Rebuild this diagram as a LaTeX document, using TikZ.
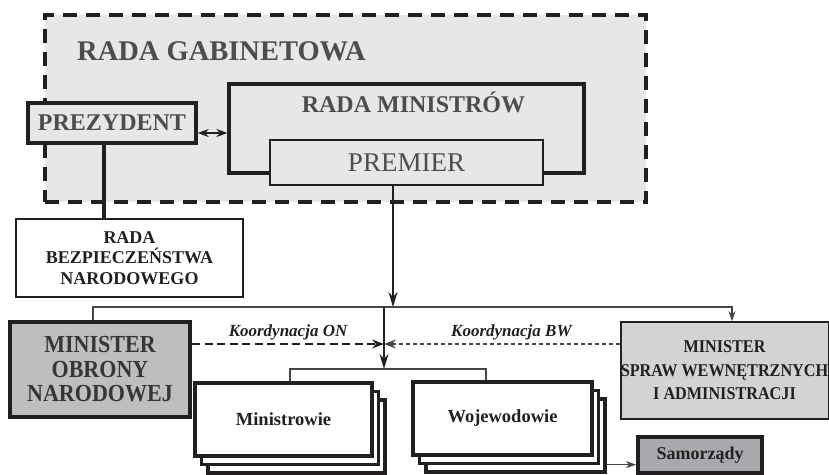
\documentclass[tikz,border=0pt]{standalone}
\usepackage{fontspec}
\setmainfont{Liberation Serif}
\newfontfamily\narrowserif[FakeStretch=0.9]{Liberation Serif}
\usepackage{tikz}
\usetikzlibrary{arrows.meta,positioning,calc,shadows}
\usepackage{xcolor}
\definecolor{CabinetGray}{RGB}{230,231,232}
\definecolor{DefenceGray}{RGB}{188,190,192}
\definecolor{InteriorGray}{RGB}{209,211,212}
\definecolor{LocalGray}{RGB}{167,169,172}
\definecolor{InkDark}{RGB}{35,31,32}
\definecolor{TitleGray}{RGB}{77,77,79}
\definecolor{WireGray}{RGB}{70,70,72}
\tikzset{
  cabinet/.style={draw=InkDark, fill=CabinetGray, line width=3.6pt,
    dash pattern=on 14pt off 9pt, minimum width=601pt, minimum height=187pt},
  headbox/.style={draw=InkDark, fill=CabinetGray, line width=3.4pt, inner sep=0pt,
    text=TitleGray, font=\fontsize{24}{28}\selectfont\bfseries},
  councilbox/.style={draw=InkDark, line width=3.2pt, inner sep=0pt},
  premierbox/.style={draw=InkDark, fill=CabinetGray, line width=2pt, inner sep=0pt,
    text=TitleGray, font=\fontsize{27}{30}\selectfont},
  securitybox/.style={draw=InkDark, fill=white, line width=2pt, align=center,
    text=InkDark, font=\fontsize{18}{20.5}\selectfont\bfseries},
  defencebox/.style={draw=InkDark, fill=DefenceGray, line width=4.2pt, align=center,
    text=InkDark!90, font=\narrowserif\fontsize{24.5}{24.5}\selectfont\bfseries},
  interiorbox/.style={draw=InkDark, fill=InteriorGray, line width=1.5pt, align=center,
    inner sep=0pt, text=InkDark, font=\narrowserif\fontsize{18}{23.5}\selectfont\bfseries},
  stackbox/.style={draw=InkDark, fill=white, line width=3.3pt,
    minimum height=73pt, text=InkDark, font=\fontsize{18.5}{20}\selectfont\bfseries,
    copy shadow={shadow xshift=13pt, shadow yshift=-17pt},
    copy shadow={shadow xshift=6.5pt, shadow yshift=-8.5pt}},
  localbox/.style={draw=InkDark, fill=LocalGray, line width=4pt,
    minimum width=124pt, minimum height=36pt, text=InkDark,
    font=\fontsize{18}{20}\selectfont\bfseries},
  wire/.style={draw=WireGray, line width=1.3pt},
  arrow/.style={-{Stealth[length=15pt, width=9pt, inset=5pt]}, line width=1.4pt, InkDark},
  smallarrow/.style={-{Stealth[length=10pt, width=7pt, inset=3pt]}},
  coordlabel/.style={font=\fontsize{17}{20}\selectfont\bfseries\itshape, text=InkDark, inner sep=1pt}
}

\begin{document}
\begin{tikzpicture}[x=1pt, y=-1pt]
  \useasboundingbox (0,0) rectangle (829,474);

  % rada gabinetowa
  \node[cabinet] (RG) at (345.5,108.5) {};
  \node[anchor=west, inner sep=0pt, text=TitleGray,
    font=\fontsize{28.5}{32}\selectfont\bfseries] (RGtitle) at (77,51.5) {RADA GABINETOWA};

  \node[councilbox, minimum width=355pt, minimum height=89pt] (RM) at (406.5,128.5) {};
  \node[below=9pt of RM.north, xshift=7pt, inner sep=0pt, text=TitleGray,
    font=\fontsize{24}{28}\selectfont\bfseries] (RMtitle) {RADA MINISTRÓW};
  \node[premierbox, minimum width=273pt, minimum height=45pt] (PREM) at (406.5,162.5) {PREMIER};
  \node[headbox, minimum width=168pt, minimum height=40pt] (PREZ) at (112,123) {PREZYDENT};

  \node[securitybox, minimum width=227pt, minimum height=78pt] (RBN) at (129.5,258)
    {RADA\\BEZPIECZEŃSTWA\\NARODOWEGO};

  % ministrowie
  \node[defencebox, minimum width=180pt, minimum height=95pt] (MON) at (100,369.5)
    {MINISTER\\OBRONY\\NARODOWEJ};
  \node[interiorbox, minimum width=207pt, minimum height=97pt] (MSW) at (724.5,370.5)
    {MINISTER\\SPRAW WEWNĘTRZNYCH\\I ADMINISTRACJI};
  \node[stackbox, minimum width=177pt] (MIN) at (283.5,419.5) {Ministrowie};
  \node[stackbox, minimum width=179pt] (WOJ) at (502.5,418.5) {Wojewodowie};
  \node[localbox] (SAM) at (700,455) {Samorządy};

  \coordinate (premout) at (393,307);
  \coordinate (bus) at (384,307);
  \coordinate (cross) at (384,344);
  \coordinate (sub) at (384,369);
  \coordinate (wojout) at ($(WOJ.south east)+(13,8)$);

  \draw[InkDark, line width=3.2pt] ([xshift=-8pt]PREZ.south) -- ([xshift=-8pt]PREZ.south |- RBN.north);
  \draw[InkDark, line width=2.2pt, {Stealth[length=11pt, width=8pt]}-{Stealth[length=11pt, width=8pt]}]
    ([yshift=-10pt]PREZ.east) -- ([yshift=-10pt]PREZ.east -| RM.west);

  \draw[arrow] (PREM.south -| premout) -- (premout);
  \draw[wire] ([xshift=-7pt]MON.north) |- (bus);
  \draw[wire, smallarrow] (bus) -| ([xshift=7.5pt]MSW.north);
  \draw[arrow] (bus) -- (sub);
  \draw[wire] ([xshift=6.5pt]MIN.north) |- (sub) -| ([xshift=-16.5pt]WOJ.north);

  \draw[InkDark, line width=1.4pt, dash pattern=on 8pt off 4.5pt,
    -{Stealth[length=12pt, width=9pt, inset=4pt]}]
    (MON.east |- cross) -- (cross) node[coordlabel, midway, above=2pt] (ONlabel) {Koordynacja ON};
  \draw[WireGray, line width=1.3pt, dash pattern=on 4pt off 3pt,
    -{Stealth[length=12pt, width=9pt, inset=4pt]}]
    (MSW.west |- cross) -- (cross) node[coordlabel, pos=0.46, above=2pt] (BWlabel) {Koordynacja BW};

  \draw[wire, smallarrow] (wojout) -- (wojout -| SAM.west);
\end{tikzpicture}
\end{document}
